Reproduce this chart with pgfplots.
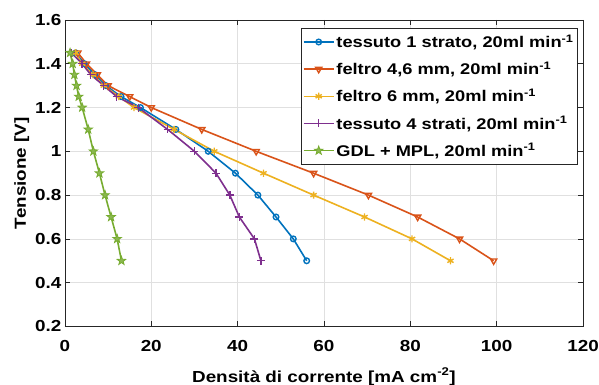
\documentclass[border=0pt]{standalone}
\usepackage{fontspec}
\setmainfont{Liberation Sans}[FakeStretch=1.18]
\usepackage{pgfplots}
\pgfplotsset{compat=1.18}
\definecolor{c1}{rgb}{0,0.447,0.741}
\definecolor{c2}{rgb}{0.85,0.325,0.098}
\definecolor{c3}{rgb}{0.929,0.694,0.125}
\definecolor{c4}{rgb}{0.494,0.184,0.556}
\definecolor{c5}{rgb}{0.466,0.674,0.188}
\pgfdeclareplotmark{pentagram}{%
  \pgfpathmoveto{\pgfpointpolar{90}{\pgfplotmarksize}}%
  \pgfpathlineto{\pgfpointpolar{126}{0.4\pgfplotmarksize}}%
  \pgfpathlineto{\pgfpointpolar{162}{\pgfplotmarksize}}%
  \pgfpathlineto{\pgfpointpolar{198}{0.4\pgfplotmarksize}}%
  \pgfpathlineto{\pgfpointpolar{234}{\pgfplotmarksize}}%
  \pgfpathlineto{\pgfpointpolar{270}{0.4\pgfplotmarksize}}%
  \pgfpathlineto{\pgfpointpolar{306}{\pgfplotmarksize}}%
  \pgfpathlineto{\pgfpointpolar{342}{0.4\pgfplotmarksize}}%
  \pgfpathlineto{\pgfpointpolar{18}{\pgfplotmarksize}}%
  \pgfpathlineto{\pgfpointpolar{54}{0.4\pgfplotmarksize}}%
  \pgfpathclose\pgfusepathqfillstroke}
\begin{document}
\begin{tikzpicture}
\begin{axis}[
  scale only axis, width=519pt, height=307pt,
  xmin=0, xmax=120, ymin=0.2, ymax=1.6,
  xtick={0,20,40,60,80,100,120},
  ytick={0.2,0.4,0.6,0.8,1,1.2,1.4,1.6},
  yticklabel style={/pgf/number format/fixed},
  grid=major, major grid style={black!12, line width=0.6pt},
  tick align=inside, major tick length=5pt,
  axis line style={black!85, line width=0.6pt},
  every tick/.style={black!85, line width=0.6pt},
  ticklabel style={font=\fontsize{16}{18}\selectfont\bfseries},
  xticklabel style={yshift=-10pt},
  yticklabel style={xshift=0pt},
  /pgf/number format/assume math mode=true,
  xlabel={Densità di corrente [mA cm\textsuperscript{-2}]},
  ylabel={Tensione [V]},
  label style={font=\fontsize{16}{18}\selectfont\bfseries},
  xlabel style={yshift=-10pt},
  ylabel style={yshift=-1pt},
  legend cell align=left,
  legend style={at={(rel axis cs:0.99,0.975)}, anchor=north east,
    font=\fontsize{15.5}{17}\selectfont\bfseries, draw=black!85, line width=0.6pt,
    row sep=9pt, inner sep=2pt, inner ysep=5pt},
  legend image code/.code={\draw[mark repeat=2,mark phase=2] plot coordinates {(0pt,0pt)(15pt,0pt)(30pt,0pt)};},
  legend image post style={line width=1.5pt},
  every axis plot/.append style={line width=1.6pt},
]
\coordinate (SW) at (rel axis cs:0,0);
\coordinate (NE) at (rel axis cs:1,1);
\addplot[c1, mark=o, mark size=2.8pt, mark options={line width=1.4pt}] coordinates {
(2.5,1.45)(4.5,1.4)(7,1.35)(9.5,1.3)(13,1.25)(17.5,1.2)(25.7,1.1)(33.2,1.0)(39.5,0.9)(44.7,0.8)(48.9,0.7)(52.9,0.6)(56,0.5)};
\addlegendentry{tessuto 1 strato, 20ml min\textsuperscript{-1}}
\addplot[c2, mark=triangle, mark size=3.6pt, mark options={rotate=180, line width=1.4pt}] coordinates {
(3,1.45)(5,1.4)(7.5,1.35)(10,1.3)(15,1.25)(20,1.2)(31.7,1.1)(44.3,1.0)(57.6,0.9)(70.3,0.8)(81.7,0.7)(91.4,0.6)(99.3,0.5)};
\addlegendentry{feltro 4,6 mm, 20ml min\textsuperscript{-1}}
\addplot[c3, mark=asterisk, mark size=3.6pt, mark options={line width=1.4pt}] coordinates {
(2.5,1.45)(4,1.4)(6.5,1.35)(9,1.3)(12.5,1.25)(16,1.2)(25.3,1.1)(34.6,1.0)(46,0.9)(57.6,0.8)(69.4,0.7)(80.4,0.6)(89.3,0.5)};
\addlegendentry{feltro 6 mm, 20ml min\textsuperscript{-1}}
\addplot[c4, mark=+, mark size=4pt, mark options={line width=1.4pt}] coordinates {
(1.5,1.45)(4,1.4)(6,1.35)(9,1.3)(12,1.25)(17,1.2)(23.8,1.1)(30,1.0)(35,0.9)(38.2,0.8)(40.4,0.7)(43.9,0.6)(45.4,0.5)};
\addlegendentry{tessuto 4 strati, 20ml min\textsuperscript{-1}}
\addplot[c5, mark=pentagram, mark size=4.5pt, mark options={line width=0.8pt, fill=c5!85!white}] coordinates {
(1.2,1.45)(1.8,1.4)(2.2,1.35)(2.7,1.3)(3.2,1.25)(4,1.2)(5.4,1.1)(6.6,1.0)(8,0.9)(9.3,0.8)(10.7,0.7)(12.1,0.6)(13.1,0.5)};
\addlegendentry{GDL + MPL, 20ml min\textsuperscript{-1}}
\end{axis}
\pgfresetboundingbox
\path ([shift={(-65pt,-58pt)}]SW) rectangle ([shift={(16pt,20pt)}]NE);
\end{tikzpicture}
\end{document}
